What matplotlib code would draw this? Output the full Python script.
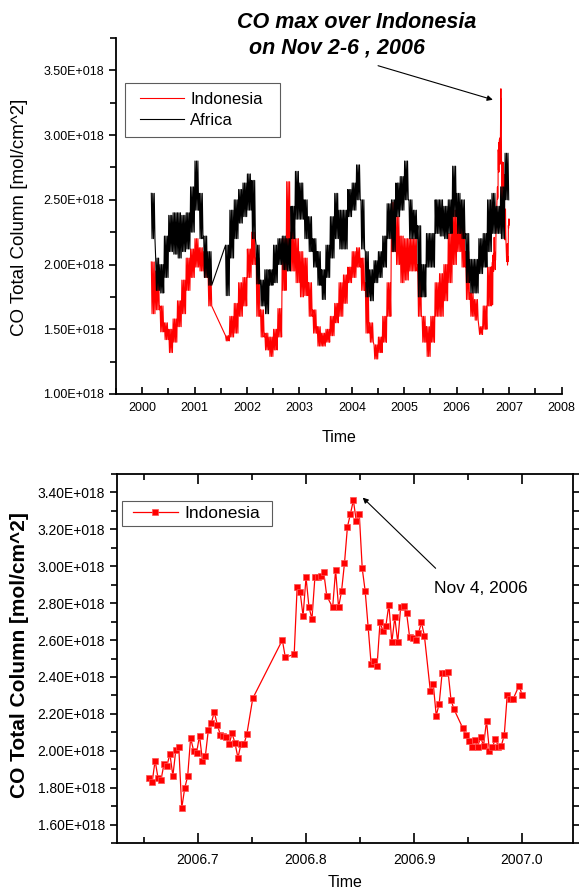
import numpy as np
import pandas as pd
import matplotlib
matplotlib.use("Agg")
import matplotlib.pyplot as plt
from matplotlib.ticker import MultipleLocator, FuncFormatter
from matplotlib.lines import Line2D
from matplotlib.legend_handler import HandlerLine2D

plt.rcParams['font.family'] = ['Liberation Sans', 'DejaVu Sans']

# ---------------- data (CO total column, units of 1E+018 mol/cm^2) ----------------
# Top panel: monthly upper / lower envelope of the noisy daily record
gap_months = ['2001-05', '2001-06', '2001-07']          # no data
africa_months = [str(p) for p in pd.period_range('2000-03', '2006-12', freq='M')
                 if str(p) not in gap_months]
indo_months = africa_months[:75]                        # 2000-03 .. 2006-08

indo_hi = [2.02, 1.95, 1.68, 1.55, 1.50, 1.58, 1.72, 1.88, 2.05, 2.12,
           2.20, 2.13, 2.10, 1.92, 1.45, 1.60, 1.70, 1.86, 1.90,
           2.12, 2.25, 2.05, 1.65, 1.47, 1.44, 1.50, 1.66, 2.20, 2.64, 2.25, 2.20,
           2.10, 2.05, 1.86, 1.65, 1.52, 1.47, 1.50, 1.60, 1.70, 1.86, 1.92, 1.98,
           2.10, 2.13, 2.05, 1.86, 1.55, 1.38, 1.44, 1.60, 1.86, 2.48, 2.37, 2.22,
           2.20, 2.20, 2.20, 2.00, 1.60, 1.52, 1.60, 1.86, 1.93, 2.00, 2.24, 2.42,
           2.37, 2.30, 2.10, 1.78, 1.73, 1.52, 1.68, 1.98]
indo_lo = [1.62, 1.65, 1.48, 1.42, 1.32, 1.40, 1.52, 1.62, 1.80, 1.90,
           1.98, 1.95, 1.90, 1.68, 1.41, 1.44, 1.47, 1.60, 1.68,
           1.90, 2.00, 1.60, 1.44, 1.34, 1.29, 1.34, 1.44, 1.80, 2.00, 1.95, 1.86,
           1.75, 1.76, 1.60, 1.47, 1.37, 1.37, 1.40, 1.45, 1.55, 1.60, 1.70, 1.86,
           1.90, 1.98, 1.80, 1.47, 1.40, 1.27, 1.32, 1.40, 1.60, 2.10, 2.00, 1.86,
           1.88, 1.95, 1.95, 1.60, 1.40, 1.29, 1.40, 1.60, 1.60, 1.72, 1.86, 2.00,
           2.10, 1.98, 1.73, 1.60, 1.57, 1.46, 1.50, 1.68]
africa_hi = [2.55, 2.05, 2.00, 2.22, 2.38, 2.40, 2.40, 2.38, 2.40, 2.60,
             2.80, 2.55, 2.22, 2.10, 2.15, 2.42, 2.50, 2.58, 2.63,
             2.70, 2.65, 2.15, 1.88, 1.96, 1.96, 2.15, 2.20, 2.22, 2.20, 2.45, 2.72,
             2.63, 2.50, 2.37, 2.20, 2.10, 1.96, 2.15, 2.37, 2.55, 2.42, 2.42, 2.58,
             2.63, 2.77, 2.50, 2.10, 1.96, 2.03, 2.10, 2.22, 2.47, 2.50, 2.63, 2.68,
             2.80, 2.50, 2.42, 2.30, 2.00, 2.24, 2.24, 2.50, 2.50, 2.45, 2.50, 2.76,
             2.55, 2.50, 2.24, 2.04, 2.04, 2.20, 2.24, 2.50, 2.55, 2.45, 2.60, 2.86]
africa_lo = [2.20, 1.80, 1.78, 1.90, 2.10, 2.08, 2.05, 2.10, 2.12, 2.25,
             2.42, 2.20, 1.90, 1.84, 1.76, 2.05, 2.20, 2.32, 2.37,
             2.42, 2.20, 1.85, 1.68, 1.62, 1.84, 1.86, 2.00, 1.96, 1.95, 2.20, 2.35,
             2.35, 2.20, 2.10, 1.98, 1.84, 1.73, 1.90, 2.05, 2.20, 2.12, 2.12, 2.37,
             2.42, 2.50, 2.12, 1.75, 1.72, 1.86, 1.90, 1.98, 2.20, 2.10, 2.37, 2.42,
             2.50, 2.20, 2.20, 1.75, 1.75, 1.98, 1.98, 2.24, 2.22, 2.20, 2.24, 2.37,
             2.24, 2.20, 1.86, 1.78, 1.78, 1.93, 1.98, 2.10, 2.24, 2.24, 2.20, 2.50]

# Bottom panel: daily Indonesia values, Aug-Dec 2006 (day of year, value)
day_2006 = [239, 240, 241, 242, 243, 244, 245, 246, 247, 248, 249, 250, 251, 252,
            253, 254, 255, 256, 257, 258, 259, 260, 261, 262, 263, 264, 265, 266,
            267, 268, 269, 270, 271, 272, 274, 284, 285, 288, 289, 290, 291, 292,
            293, 294, 295, 296, 297, 298, 299, 301, 302, 303, 304, 305, 306, 307,
            308, 309, 310, 311, 312, 313, 314, 315, 316, 317, 318, 319, 320, 321,
            322, 323, 324, 325, 326, 327, 328, 329, 330, 331, 332, 334, 335, 336,
            337, 338, 339, 340, 341, 342, 345, 346, 347, 348, 349, 350, 351, 352,
            353, 354, 355, 356, 357, 358, 359, 360, 361, 362, 364, 365]
indo_daily = [1.855, 1.830, 1.947, 1.850, 1.842, 1.929, 1.920, 1.983, 1.864, 2.005,
              2.019, 1.689, 1.797, 1.862, 2.070, 2.001, 1.987, 2.082, 1.947, 1.974,
              2.115, 2.151, 2.210, 2.142, 2.088, 2.079, 2.077, 2.034, 2.095, 2.041,
              1.961, 2.037, 2.034, 2.090, 2.284, 2.600, 2.506, 2.523, 2.887, 2.862,
              2.730, 2.940, 2.779, 2.714, 2.940, 2.940, 2.945, 2.967, 2.839, 2.777,
              2.979, 2.777, 2.864, 3.017, 3.214, 3.283, 3.358, 3.243, 3.283, 2.988,
              2.864, 2.669, 2.470, 2.488, 2.458, 2.696, 2.651, 2.678, 2.792, 2.588,
              2.723, 2.588, 2.781, 2.786, 2.745, 2.618, 2.611, 2.602, 2.636, 2.696,
              2.624, 2.326, 2.362, 2.191, 2.254, 2.423, 2.423, 2.429, 2.275, 2.225,
              2.122, 2.086, 2.055, 2.023, 2.059, 2.023, 2.073, 2.028, 2.162, 1.996,
              2.021, 2.064, 2.023, 2.026, 2.086, 2.302, 2.281, 2.281, 2.353, 2.304]


def month_to_year(m):
    y, mo = m.split('-')
    return int(y) + (int(mo) - 1) / 12.0


def envelope_series(months, hi, lo, steps=6):
    """Zig-zag between a month's upper and lower envelope (noisy daily look)."""
    xs, ys = [], []
    for m, h, l in zip(months, hi, lo):
        t = month_to_year(m)
        for k in range(steps):
            xs.append(t + (k + 0.5) / (steps * 12.0))
            ys.append(h if k % 2 == 0 else l)
    return np.array(xs), np.array(ys)


daily_x = 2006 + np.array(day_2006) / 365.0
daily_y = np.array(indo_daily)

ix, iy = envelope_series(indo_months, indo_hi, indo_lo)
ix = np.concatenate([ix, daily_x])
iy = np.concatenate([iy, daily_y])
ax_, ay_ = envelope_series(africa_months, africa_hi, africa_lo)

# ---------------- figure ----------------
W, H = 579, 892
fig = plt.figure(figsize=(W / 100, H / 100), dpi=100)


def rect(l, t, r, b):
    return [l / W, 1 - b / H, (r - l) / W, (b - t) / H]


fmt = FuncFormatter(lambda v, p: f"{v:.2f}E+018")

# ---- top panel ----
L1, T1, R1, B1 = 116, 38, 561.5, 394
ax1 = fig.add_axes(rect(L1, T1, R1, B1))
ax1.plot(ix, iy, color='#ff0000', lw=0.8, label='Indonesia')
ax1.plot(ax_, ay_, color='black', lw=0.8, label='Africa')
ax1.set_xlim(1999.5, 2008)
ax1.set_ylim(1.0, 3.75)
for s in ['top', 'right']:
    ax1.spines[s].set_visible(False)
for s in ['left', 'bottom']:
    ax1.spines[s].set_linewidth(1.3)
ax1.xaxis.set_major_locator(MultipleLocator(1))
ax1.xaxis.set_minor_locator(MultipleLocator(0.5))
ax1.xaxis.set_major_formatter(FuncFormatter(lambda v, p: f"{int(round(v))}"))
ax1.yaxis.set_major_locator(MultipleLocator(0.5))
ax1.yaxis.set_minor_locator(MultipleLocator(0.25))
ax1.yaxis.set_major_formatter(fmt)
ax1.tick_params(axis='x', which='both', direction='in', labelsize=9, width=1.2, pad=6)
ax1.tick_params(axis='x', which='major', length=5)
ax1.tick_params(axis='x', which='minor', length=4)
ax1.tick_params(axis='y', which='both', direction='out', labelsize=9, width=1.2)
ax1.tick_params(axis='y', which='major', length=5)
ax1.tick_params(axis='y', which='minor', length=4)

fw1, fh1 = R1 - L1, B1 - T1
lx0, ly0, lx1, ly1 = 125, 83, 280, 138
leg1 = ax1.legend(loc='upper left',
                  bbox_to_anchor=((lx0 - L1) / fw1, (B1 - ly1) / fh1,
                                  (lx1 - lx0) / fw1, (ly1 - ly0) / fh1),
                  mode='expand', borderaxespad=0,
                  fontsize=12, frameon=True, fancybox=False, edgecolor='#333333',
                  handlelength=3.0, handletextpad=0.36, labelspacing=0.33,
                  borderpad=0.55,
                  handler_map={Line2D: HandlerLine2D(xpad=0.36)})
leg1.get_frame().set_linewidth(0.8)
ax1.annotate('', xy=(2006.69, 3.273), xytext=(2004.50, 3.536),
             arrowprops=dict(arrowstyle='-|>', color='black', lw=0.8,
                             mutation_scale=8, shrinkA=0, shrinkB=0))
fig.text(356.5 / W, 1 - 22 / H, 'CO max over Indonesia', ha='center', va='center',
         fontsize=15.5, fontweight='bold', fontstyle='italic')
fig.text(337 / W, 1 - 48 / H, 'on Nov 2-6 , 2006', ha='center', va='center',
         fontsize=15.5, fontweight='bold', fontstyle='italic')
fig.text(338.7 / W, 1 - 438 / H, 'Time', ha='center', va='center', fontsize=11.5)
fig.text(20 / W, 1 - 217 / H, 'CO Total Column [mol/cm^2]', ha='center', va='center',
         rotation=90, fontsize=13.5)

# ---- bottom panel ----
L2, T2, R2, B2 = 116.7, 474, 573, 843
ax2 = fig.add_axes(rect(L2, T2, R2, B2))
ax2.plot(daily_x, daily_y, '-s', color='#ff0000', lw=0.9, ms=4.8,
         mec='#ff5050', mew=0.5, label='Indonesia')
ax2.set_xlim(2006.6247, 2007.0472)
ax2.set_ylim(1.5, 3.5)
for s in ax2.spines.values():
    s.set_linewidth(1.3)
ax2.xaxis.set_major_locator(MultipleLocator(0.1))
ax2.xaxis.set_minor_locator(MultipleLocator(0.05))
ax2.xaxis.set_major_formatter(FuncFormatter(lambda v, p: f"{v:.1f}"))
ax2.yaxis.set_major_locator(MultipleLocator(0.2))
ax2.yaxis.set_minor_locator(MultipleLocator(0.1))
ax2.yaxis.set_major_formatter(fmt)
ax2.tick_params(axis='x', which='both', direction='in', top=True, labelsize=10,
                width=1.2, pad=7)
ax2.tick_params(axis='x', which='major', length=7)
ax2.tick_params(axis='x', which='minor', length=4)
ax2.tick_params(axis='y', which='both', direction='out', right=True, labelsize=10,
                width=1.2)
ax2.tick_params(axis='y', which='major', length=5)
ax2.tick_params(axis='y', which='minor', length=4)

fw2, fh2 = R2 - L2, B2 - T2
mx0, my0, mx1, my1 = 122.3, 500.7, 272.3, 527.3
leg2 = ax2.legend(loc='upper left',
                  bbox_to_anchor=((mx0 - L2) / fw2, (B2 - my1) / fh2,
                                  (mx1 - mx0) / fw2, (my1 - my0) / fh2),
                  mode='expand', borderaxespad=0,
                  fontsize=12.5, frameon=True, fancybox=False, edgecolor='#333333',
                  handlelength=2.9, handletextpad=0.35, borderpad=0.3,
                  handler_map={Line2D: HandlerLine2D(xpad=0.31)})
leg2.get_frame().set_linewidth(0.8)
ax2.annotate('', xy=(2006.8525, 3.372), xytext=(2006.920, 2.989),
             arrowprops=dict(arrowstyle='-|>', color='black', lw=0.8,
                             mutation_scale=8, shrinkA=0, shrinkB=0))
ax2.text(2006.962, 2.877, 'Nov 4, 2006', ha='center', va='center', fontsize=12.5)
fig.text(345 / W, 1 - 882.5 / H, 'Time', ha='center', va='center', fontsize=11.5)
fig.text(20 / W, 1 - 655 / H, 'CO Total Column [mol/cm^2]', ha='center', va='center',
         rotation=90, fontsize=15, fontweight='bold')

fig.savefig('out.png', dpi=100)
